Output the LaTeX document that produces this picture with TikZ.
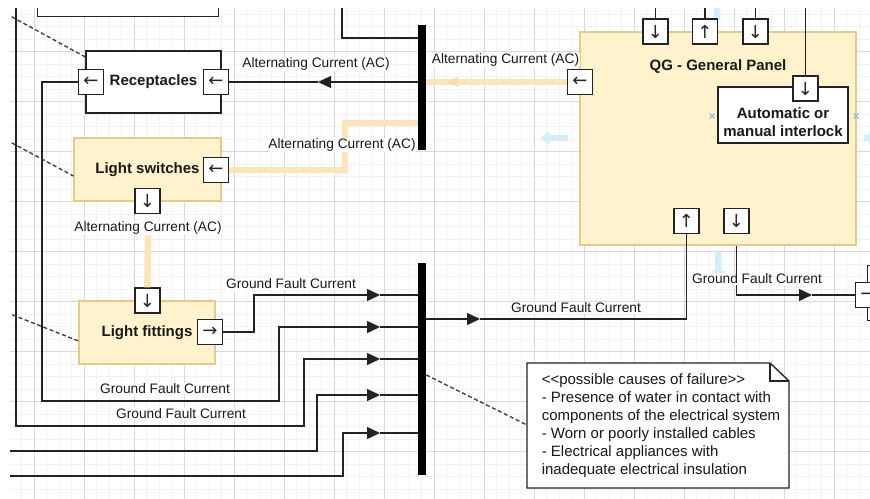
\documentclass[tikz,border=0pt]{standalone}
\usepackage{fontspec}
\setmainfont{Liberation Sans}
\newfontfamily\arrowfont{DejaVu Sans}
\usetikzlibrary{arrows.meta,calc}
\definecolor{yfill}{HTML}{FFF2CC}
\definecolor{ydraw}{HTML}{D6B656}
\definecolor{acline}{RGB}{252,229,185}
\definecolor{achead}{RGB}{249,221,168}
\definecolor{hover}{RGB}{212,237,248}
\definecolor{hoverx}{RGB}{120,190,225}
\definecolor{edge}{HTML}{222222}
\definecolor{dashc}{HTML}{3A3A3A}
\begin{document}
\begin{tikzpicture}[x=0.75pt,y=-0.75pt,
  lab/.style={font=\fontsize{10.3}{12}\selectfont, fill=white, inner sep=0.5pt, text=black!90},
  wbox/.style={draw=edge, fill=white, line width=1pt, inner sep=0pt},
  ybox/.style={draw=ydraw!70, fill=yfill, line width=0.8pt, inner sep=0pt},
  title/.style={font=\fontsize{11.25}{13.5}\selectfont\bfseries, text=black!90},
  port/.style={draw=edge, fill=white, line width=1pt, minimum size=18.75pt, inner sep=0pt, font=\arrowfont\fontsize{13.5}{14}\selectfont, text=black!85},
  conn/.style={draw=edge, line width=1pt},
  midarr/.style={conn, -{Triangle[length=9.75pt,width=9pt]}},
  acl/.style={draw=acline, line width=5pt},
  bus/.style={fill=black, draw=none, minimum width=6pt, inner sep=0pt},
  notedash/.style={draw=dashc, line width=1pt, dash pattern=on 3pt off 2pt},
  hov/.style={draw=hover, line width=4pt, -{Triangle[length=7pt,width=10pt]}},
  hovx/.style={draw=hoverx, line width=0.8pt},
  gridminor/.style={draw=gray!10, line width=0.6pt},
  gridmajor/.style={draw=gray!30, line width=0.75pt},
]
\useasboundingbox (0,0) rectangle (870,499);
\fill[white] (0,0) rectangle (870,499);
\coordinate (top) at (0,0);
\begin{scope}
\clip (10,9) rectangle (870,499);
% grid
\foreach \i in {-2,...,67} \draw[gridminor] ({34.3+12.5*\i},0) -- ({34.3+12.5*\i},499);
\foreach \j in {0,...,40} \draw[gridminor] (0,{1.7+12.5*\j}) -- (870,{1.7+12.5*\j});
\foreach \i in {0,...,16} \draw[gridmajor] ({34.3+50*\i},0) -- ({34.3+50*\i},499);
\foreach \j in {0,...,9} \draw[gridmajor] (0,{1.7+50*\j}) -- (870,{1.7+50*\j});

% top-left partial box
\node[wbox, minimum width=135.75pt, minimum height=30pt, anchor=south west] (topbox) at (37,17) {};

% hover artifacts
\draw[hov] (568,138) -- (540,138);
\draw[hov] (864,138) -- (878,138);
\draw[draw=hover, line width=4pt] (717,20) -- (717,2);
\draw[hov] (718,252) -- (718,280);

% boxes
\node[wbox, title, minimum width=101.25pt, minimum height=46.5pt] (rec) at (153.5,82) {Receptacles};
\node[ybox, title, minimum width=110.25pt, minimum height=47.25pt] (ls) at (147.5,169.5) {Light switches};
\node[ybox, title, minimum width=102pt, minimum height=47.25pt] (lf) at (147,332.5) {Light fittings};
\node[ybox, minimum width=207pt, minimum height=159.75pt] (qg) at (718,138.5) {};
\node[title] (qgt) at (718,67) {QG - General Panel};
\node[wbox, minimum width=97.5pt, minimum height=42pt] (il) at (783,115) {};
\node[title, align=center] (ilt) at (783,122) {Automatic or\\manual interlock};
\node[wbox, minimum width=40pt, minimum height=41.25pt, anchor=north west] (rbox) at (867,265) {};
\draw[hovx] (709.5,113.5) -- (714.5,118.5) (709.5,118.5) -- (714.5,113.5);
\draw[hovx] (853.5,113.5) -- (858.5,118.5) (853.5,118.5) -- (858.5,113.5);

% buses
\node[bus, minimum height=93.75pt] (bus1) at (422,87.5) {};
\node[bus, minimum height=159pt] (bus2) at (422,369) {};

% ports
\node[port] (rl) at (91,82) {←};
\node[port] (rr) at (216,82) {←};
\node[port] (lsr) at (216,170) {←};
\node[port] (lsb) at (147.5,201) {↓};
\node[port] (lft) at (147.5,300.5) {↓};
\node[port] (lfr) at (210,332) {→};
\node[port] (ql) at (580,82) {←};
\node[port] (p1) at (655.5,31.5) {↓};
\node[port] (p2) at (705,31.5) {↑};
\node[port] (p3) at (755.5,31.5) {↓};
\node[port] (ip) at (805.5,88.5) {↓};
\node[port] (pb1) at (686.5,221) {↑};
\node[port] (pb2) at (736.5,221) {↓};
\node[port] (rp) at (868,295) {→};

% label under light switches (yellow line starts below it)
\node[lab] (acb) at (148,228) {Alternating Current (AC)};

% AC (yellow) connectors
\draw[acl] (acb.south) -- (lft.north);
\coordinate (k1) at (345,123);
\draw[acl] (lsr.east) -| (k1) -- (k1 -| bus1.west);
\draw[acl] (ql.west) -- (bus1.east |- ql);
\coordinate (qa) at (447,82);
\fill[achead] (qa) -- ++(11,-5) -- ++(0,10) -- cycle;

% Receptacles AC line
\coordinate (ar1) at (318,82);
\draw[midarr] (bus1.west |- rr) -- (ar1);
\draw[conn] (ar1) -- (rr.east);

% lines to the top
\coordinate (t1) at (342,38);
\draw[conn] (t1 |- top) -- (t1) -- (t1 -| bus1.west);
\draw[conn] (p1.north) -- (p1.north |- top);
\draw[conn] (p2.north) -- (p2.north |- top);
\draw[conn] (p3.north) -- (p3.north |- top);
\draw[conn] (ip.north) -- (ip.north |- top);

% ground fault lines to lower bus
\coordinate (g1) at (380,295);
\coordinate (g2) at (380,327);
\coordinate (g3) at (380,359);
\coordinate (g4) at (380,395);
\coordinate (g5) at (380,433);
\draw[midarr] (lfr.east) -- (254,332) -- (254,295) -- (g1);
\draw[conn] (g1) -- (g1 -| bus2.west);
\draw[midarr] (rl.west) -- (42,82) -- (42,401) -- (279,401) -- (279,327) -- (g2);
\draw[conn] (g2) -- (g2 -| bus2.west);
\draw[midarr] (16,0) -- (16,426) -- (304,426) -- (304,359) -- (g3);
\draw[conn] (g3) -- (g3 -| bus2.west);
\draw[midarr] (0,451) -- (317,451) -- (317,395) -- (g4);
\draw[conn] (g4) -- (g4 -| bus2.west);
\draw[midarr] (0,476) -- (343,476) -- (343,433) -- (g5);
\draw[conn] (g5) -- (g5 -| bus2.west);

% right side ground fault lines
\coordinate (g6) at (480,319);
\draw[midarr] (bus2.east |- g6) -- (g6);
\draw[conn] (g6) -| (pb1.south);
\coordinate (g7) at (812,295);
\draw[midarr] (pb2 |- qg.south) |- (g7);
\draw[conn] (g7) -- (rp.west);

% note
\coordinate (n1) at (527,363);
\coordinate (n2) at (789,488);
\draw[wbox] (n1) -- (770,363) -- (789,381) -- (n2) -- (n1 |- n2) -- cycle;
\draw[conn, line width=1pt] (770,363) -- (770,381) -- (789,381);
\node[anchor=north west, align=left, inner sep=0pt, text=black!90, font=\fontsize{11.25}{13.5}\selectfont] (ntext) at (541.5,373) {<{}<possible causes of failure>{}>\\- Presence of water in contact with\\components of the electrical system\\- Worn or poorly installed cables\\- Electrical appliances with\\inadequate electrical insulation};

% dashed note links
\draw[notedash] (0,10.4) -- (rec.west |- 0,57);
\draw[notedash] (0,136.6) -- (ls.west |- 0,176);
\draw[notedash] (0,309.9) -- (lf.west |- 0,341);
\draw[notedash] (bus2.east |- 0,375) -- (n1 |- 0,425);

% labels
\node[lab] (acq) at (505.5,60) {Alternating Current (AC)};
\node[lab] (acr) at (316,64) {Alternating Current (AC)};
\node[lab] (acs) at (342,145) {Alternating Current (AC)};
\node[lab] (gf1) at (291,284) {Ground Fault Current};
\node[lab] (gf2) at (165,389) {Ground Fault Current};
\node[lab] (gf3) at (181,414) {Ground Fault Current};
\node[lab] (gf4) at (576,308) {Ground Fault Current};
\node[lab] (gf5) at (757,279) {Ground Fault Current};
\end{scope}
\end{tikzpicture}
\end{document}
